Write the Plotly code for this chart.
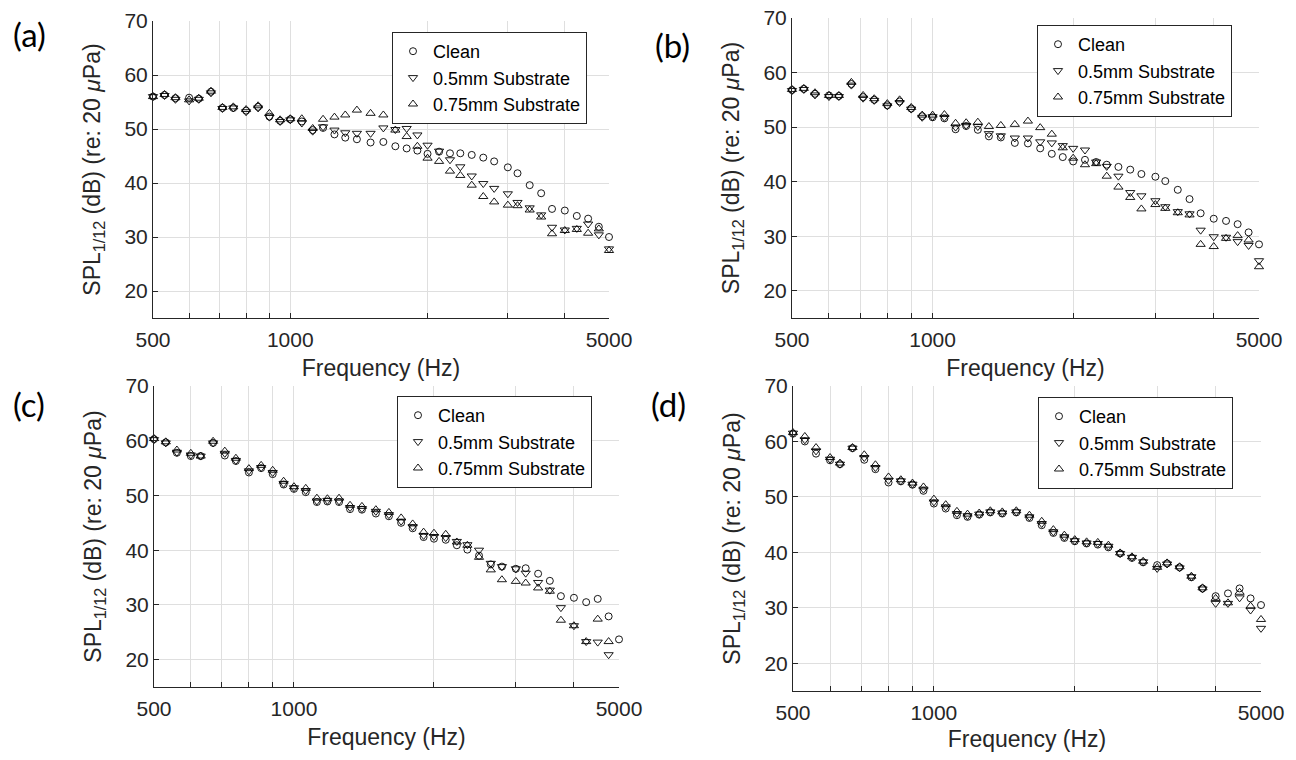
import math
import plotly.graph_objects as go

# 1/12-octave nominal band centre frequencies (Hz)
freq = [500, 530, 560, 600, 630, 670, 710, 750, 800, 850, 900, 950,
        1000, 1060, 1120, 1180, 1250, 1320, 1400, 1500, 1600, 1700, 1800, 1900,
        2000, 2120, 2240, 2360, 2500, 2650, 2800, 3000, 3150, 3350, 3550, 3750,
        4000, 4250, 4500, 4750, 5000]

series_names = ["Clean", "0.5mm Substrate", "0.75mm Substrate"]
panel_labels = ["(a)", "(b)", "(c)", "(d)"]

# Panel (a)
a_clean = [56.0, 56.3, 55.7, 55.8, 55.6, 56.9, 53.9, 53.9, 53.4, 54.1, 52.3, 51.5,
           51.8, 51.4, 49.8, 50.2, 49.0, 48.4, 48.1, 47.5, 47.6, 46.8, 46.4, 46.0,
           45.4, 45.8, 45.5, 45.5, 45.2, 44.7, 44.0, 42.9, 41.8, 39.6, 38.1, 35.2,
           34.9, 33.9, 33.4, 31.9, 30.0]
a_05 = [56.0, 56.2, 55.5, 55.2, 55.5, 56.7, 53.8, 53.9, 53.2, 53.9, 52.2, 51.4,
        51.7, 51.1, 49.6, 50.4, 49.8, 49.3, 49.2, 49.2, 50.2, 49.9, 50.1, 48.9,
        47.0, 45.9, 44.3, 43.0, 41.3, 39.9, 39.0, 38.0, 36.4, 35.4, 34.1, 31.8,
        31.3, 31.6, 32.4, 30.4, 27.8]
a_075 = [56.0, 56.4, 55.8, 55.4, 55.7, 57.0, 54.0, 54.1, 53.6, 54.3, 52.9, 51.7,
         51.9, 51.9, 50.1, 51.8, 52.2, 52.6, 53.5, 52.9, 52.6, 49.8, 48.6, 46.8,
         44.6, 44.0, 42.2, 41.4, 39.6, 37.5, 36.5, 35.9, 35.8, 35.0, 33.7, 30.6,
         31.2, 31.4, 30.7, 31.5, 27.5]

# Panel (b)
b_clean = [56.8, 57.0, 56.1, 55.8, 55.7, 57.9, 55.5, 55.0, 54.0, 54.7, 53.4, 52.0,
           51.8, 51.6, 49.6, 50.2, 49.5, 48.3, 48.1, 47.1, 47.0, 46.1, 45.1, 44.5,
           43.7, 44.0, 43.6, 43.1, 42.7, 42.2, 41.4, 40.9, 40.1, 38.5, 36.8, 34.2,
           33.2, 32.8, 32.2, 30.7, 28.5]
b_05 = [56.7, 56.9, 55.9, 55.6, 55.6, 57.7, 55.3, 54.9, 53.9, 54.5, 53.3, 51.8,
        51.9, 51.8, 50.0, 50.3, 50.1, 48.8, 48.4, 48.0, 48.0, 47.3, 47.1, 46.6,
        46.1, 45.8, 43.6, 42.8, 41.0, 38.0, 37.4, 36.5, 35.4, 34.5, 34.1, 31.1,
        29.9, 29.8, 29.0, 28.3, 25.5]
b_075 = [56.9, 57.1, 56.3, 55.8, 55.8, 58.2, 55.8, 55.2, 54.3, 55.0, 53.6, 52.2,
         52.2, 52.3, 50.7, 50.8, 50.9, 50.1, 50.3, 50.5, 51.1, 49.9, 48.7, 46.2,
         44.3, 43.1, 43.3, 41.0, 39.0, 37.1, 35.0, 35.8, 35.1, 34.3, 33.9, 28.5,
         28.1, 29.6, 30.1, 29.3, 24.4]

# Panel (c)
c_clean = [60.3, 59.7, 57.8, 57.2, 57.2, 59.6, 57.3, 56.3, 54.2, 55.0, 53.9, 52.0,
           51.2, 50.6, 48.8, 48.9, 48.8, 47.5, 47.4, 46.7, 46.2, 45.0, 44.0, 42.4,
           42.1, 41.9, 40.9, 40.1, 39.0, 37.4, 37.0, 36.6, 36.7, 35.7, 34.4, 31.6,
           31.3, 30.5, 31.1, 27.9, 23.7]
c_05 = [60.2, 59.6, 57.9, 57.4, 57.2, 59.6, 57.7, 56.4, 54.5, 55.1, 54.2, 52.2,
        51.4, 50.9, 49.0, 49.1, 49.0, 47.8, 47.6, 47.1, 46.5, 45.3, 44.3, 42.7,
        42.5, 42.3, 41.6, 41.0, 40.0, 37.6, 37.0, 36.6, 35.8, 34.1, 32.7, 29.5,
        26.2, 23.3, 23.2, 20.9, None]
c_075 = [60.4, 59.8, 58.3, 57.7, 57.2, 59.9, 58.1, 56.8, 54.9, 55.5, 54.6, 52.6,
         51.6, 51.3, 49.5, 49.4, 49.5, 48.2, 48.0, 47.4, 46.9, 45.9, 44.8, 43.3,
         43.1, 42.9, 41.5, 40.9, 38.7, 36.4, 34.6, 34.3, 34.0, 33.1, 32.5, 27.2,
         26.2, 23.3, 27.4, 23.3, None]

# Panel (d)
d_clean = [61.4, 60.0, 57.8, 56.6, 55.9, 58.8, 56.7, 55.0, 52.6, 52.8, 52.2, 51.1,
           48.8, 47.9, 46.7, 46.4, 46.8, 47.2, 47.0, 47.2, 46.2, 44.9, 43.5, 42.6,
           42.0, 41.6, 41.4, 40.9, 39.8, 39.0, 38.2, 37.7, 38.0, 37.3, 35.5, 33.5,
           32.1, 32.6, 33.5, 31.7, 30.5]
d_05 = [61.5, 60.3, 58.3, 56.8, 55.9, 58.8, 57.1, 55.3, 53.0, 52.9, 52.3, 51.4,
        49.1, 48.2, 47.0, 46.6, 46.9, 47.3, 47.1, 47.3, 46.4, 45.2, 43.7, 42.8,
        42.1, 41.7, 41.6, 41.1, 39.8, 39.1, 38.3, 37.1, 37.9, 37.2, 35.6, 33.4,
        30.8, 30.8, 31.8, 29.6, 26.3]
d_075 = [61.6, 60.9, 58.9, 57.1, 56.1, 58.9, 57.6, 55.8, 53.6, 53.1, 52.5, 51.8,
         49.6, 48.6, 47.4, 46.9, 47.1, 47.5, 47.3, 47.5, 46.7, 45.6, 44.1, 43.1,
         42.3, 41.9, 41.8, 41.3, 39.9, 39.2, 38.4, 37.3, 38.1, 37.4, 35.7, 33.6,
         31.7, 30.9, 32.8, 30.3, 27.9]

x_tickvals = [500, 600, 700, 800, 900, 1000, 2000, 3000, 4000, 5000]
x_ticktext = ["500", "", "", "", "", "1000", "", "", "", "5000"]
y_tickvals = [20, 30, 40, 50, 60, 70]

panels = [
    (a_clean, a_05, a_075),
    (b_clean, b_05, b_075),
    (c_clean, c_05, c_075),
    (d_clean, d_05, d_075),
]

# page body has an 8px margin: figure is 1280x744 placed at (8, 8)
OFF = 8
W, H = 1280, 744


def fx(p):
    return (p - OFF) / W


def fy(p):
    return 1 - (p - OFF) / H


# plot-area boxes in screen pixels (left, right, top, bottom)
boxes = [(153, 609, 21, 318), (792, 1259, 18, 318),
         (154, 619, 386, 687), (793, 1261, 386, 691)]
legend_pos = [(392, 32), (1037, 25), (397, 396), (1038, 397)]
label_pos = [(29, 34), (672, 45), (29, 404), (668, 404)]

symbols = ["circle-open", "triangle-down-open", "triangle-up-open"]
sizes = [7, 8, 8]

FONT = "Liberation Sans, Arial, Helvetica, sans-serif"
TXT = "#262626"
GRID = "#dfdfdf"
XR = [math.log10(500) - 1e-6, math.log10(5000) + 1e-6]

fig = go.Figure()
layout = {}
for i, (data, box) in enumerate(zip(panels, boxes)):
    n = i + 1
    xa = "x" if n == 1 else f"x{n}"
    ya = "y" if n == 1 else f"y{n}"
    lg = "legend" if n == 1 else f"legend{n}"
    for name, vals, sym, sz in zip(series_names, data, symbols, sizes):
        fig.add_trace(go.Scatter(
            x=freq, y=vals, mode="markers", name=name,
            marker=dict(symbol=sym, size=sz, color="black",
                        line=dict(color="black", width=0.9)),
            xaxis=xa, yaxis=ya, legend=lg, showlegend=True,
            cliponaxis=False))
    l, r, t, b = box
    layout[f"xaxis{'' if n == 1 else n}"] = dict(
        domain=[fx(l), fx(r)], anchor=ya, type="log",
        range=XR, automargin=False, ticklabeloverflow="allow",
        tickvals=x_tickvals, ticktext=x_ticktext,
        ticks="inside", ticklen=5, tickcolor=TXT, tickwidth=1,
        ticklabelstandoff=3,
        showline=True, linecolor=TXT, linewidth=1, mirror=False,
        showgrid=True, gridcolor=GRID, gridwidth=1, zeroline=False,
        tickfont=dict(family=FONT, size=21, color=TXT),
        title=dict(text="Frequency (Hz)", font=dict(family=FONT, size=23, color=TXT),
                   standoff=9))
    layout[f"yaxis{'' if n == 1 else n}"] = dict(
        domain=[fy(b), fy(t)], anchor=xa, range=[15, 70],
        automargin=False, ticklabeloverflow="allow",
        tickvals=y_tickvals, ticks="inside", ticklen=5, tickcolor=TXT, tickwidth=1,
        showline=True, linecolor=TXT, linewidth=1, mirror=False,
        showgrid=True, gridcolor=GRID, gridwidth=1, zeroline=False,
        tickfont=dict(family=FONT, size=21, color=TXT),
        title=dict(text="SPL<sub>1/12</sub> (dB) (re: 20 <i>μ</i>Pa)",
                   font=dict(family=FONT, size=23, color=TXT), standoff=17))
    lx, ly = legend_pos[i]
    layout[lg] = dict(
        x=fx(lx), y=fy(ly), xanchor="left", yanchor="top",
        bgcolor="white", bordercolor="#262626", borderwidth=1,
        font=dict(family=FONT, size=18, color="black"),
        itemsizing="trace", tracegroupgap=0)

annotations = []
for (px, py), txt in zip(label_pos, panel_labels):
    annotations.append(dict(
        text=txt, x=fx(px), y=fy(py), xref="paper", yref="paper",
        xanchor="center", yanchor="middle", showarrow=False,
        font=dict(family="Lato, Open Sans, sans-serif", size=33, color="black")))

fig.update_layout(
    width=W, height=H, autosize=False,
    margin=dict(l=0, r=0, t=0, b=0, autoexpand=False),
    paper_bgcolor="white", plot_bgcolor="white",
    annotations=annotations, **layout)

fig.write_html("out.html")
